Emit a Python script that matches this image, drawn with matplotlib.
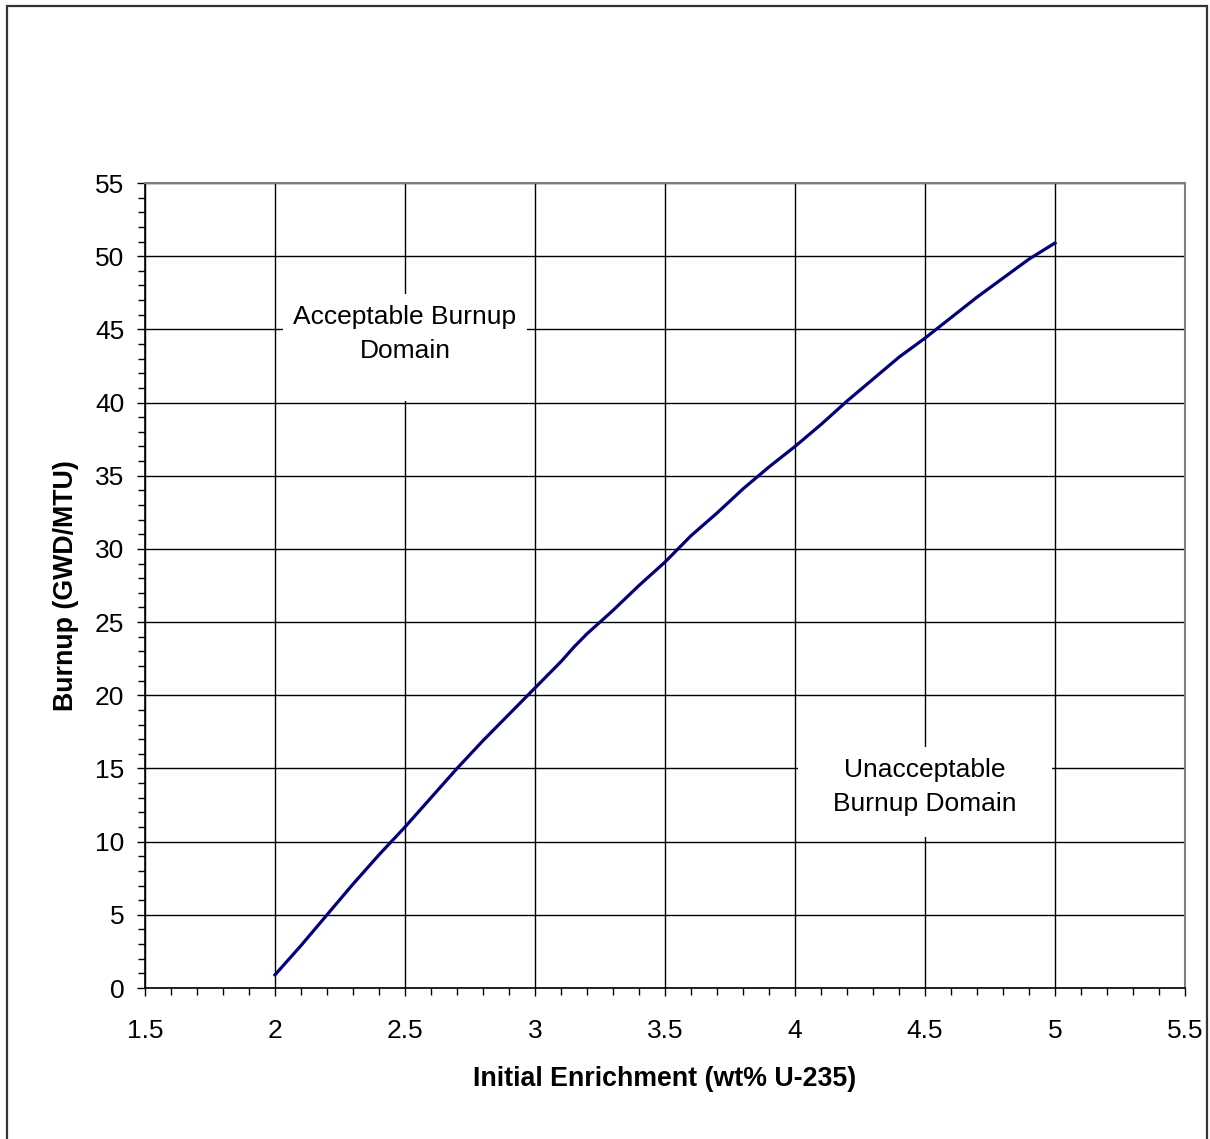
import matplotlib
matplotlib.use("Agg")
import matplotlib.pyplot as plt
from matplotlib.patches import Rectangle
from matplotlib.ticker import MultipleLocator

plt.rcParams["font.family"] = ["Liberation Sans", "DejaVu Sans"]

# enrichment (wt% U-235) vs minimum burnup (GWD/MTU)
enrichment = [2.0, 2.1, 2.2, 2.3, 2.4, 2.5, 2.6, 2.7, 2.8, 2.9, 3.0, 3.1, 3.15,
              3.2, 3.25, 3.3, 3.4, 3.5, 3.6, 3.7, 3.8, 3.9, 4.0, 4.1, 4.2,
              4.3, 4.4, 4.5, 4.6, 4.7, 4.8, 4.9, 5.0]
burnup = [0.9, 2.9, 5.0, 7.1, 9.1, 11.0, 13.0, 15.0, 16.9, 18.7, 20.5, 22.3, 23.3,
          24.2, 25.0, 25.8, 27.5, 29.1, 30.9, 32.45, 34.1, 35.6, 37.0, 38.5, 40.1,
          41.6, 43.1, 44.4, 45.8, 47.2, 48.5, 49.8, 50.9]

W, H = 1210, 1139
fig = plt.figure(figsize=(W / 100, H / 100), dpi=100)
ax = fig.add_axes([145 / W, 1 - 988 / H, 1040 / W, 805 / H])

# outer frame round the whole chart
fig.patches.append(Rectangle((7 / W, -0.05), 1200 / W, 1.05 - 6 / H,
                             transform=fig.transFigure, fill=False,
                             edgecolor="#333333", linewidth=1.6))

ax.plot(enrichment, burnup, color="#000080", linewidth=2.3, zorder=4)

ax.set_xlim(1.5, 5.5)
ax.set_ylim(0, 55)
ax.xaxis.set_major_locator(MultipleLocator(0.5))
ax.xaxis.set_minor_locator(MultipleLocator(0.1))
ax.yaxis.set_major_locator(MultipleLocator(5))
ax.yaxis.set_minor_locator(MultipleLocator(1))
ax.set_xticklabels([f"{v:g}" for v in ax.get_xticks()])

ax.grid(True, which="major", color="black", linewidth=1.0)
ax.set_axisbelow(True)
ax.tick_params(which="major", direction="out", length=6, width=1.0,
               labelsize=19, color="black")
ax.tick_params(axis="x", which="major", pad=16)
ax.tick_params(axis="y", which="major", pad=9)
ax.tick_params(which="minor", direction="out", length=5, width=1.0, color="black")

for side in ("top", "right"):
    ax.spines[side].set_color("#808080")
    ax.spines[side].set_linewidth(1.5)
for side in ("left", "bottom"):
    ax.spines[side].set_color("black")
    ax.spines[side].set_linewidth(1.2)

ax.set_xlabel("Initial Enrichment (wt% U-235)", fontsize=19.3, fontweight="bold")
ax.set_ylabel("Burnup (GWD/MTU)", fontsize=19.3, fontweight="bold")
ax.xaxis.set_label_coords(0.5, -0.097)
ax.yaxis.set_label_coords(-0.063, 0.5)

# white text boxes that hide the grid behind them
ax.add_patch(Rectangle((2.03, 40.1), 0.94, 7.3, facecolor="white",
                       edgecolor="none", zorder=2))
ax.add_patch(Rectangle((4.01, 10.3), 0.98, 6.2, facecolor="white",
                       edgecolor="none", zorder=2))
ax.text(2.5, 44.7, "Acceptable Burnup\nDomain", fontsize=19, ha="center",
        va="center", linespacing=1.5, zorder=3)
ax.text(4.5, 13.75, "Unacceptable\nBurnup Domain", fontsize=19, ha="center",
        va="center", linespacing=1.55, zorder=3)

fig.savefig("out.png", dpi=100)
